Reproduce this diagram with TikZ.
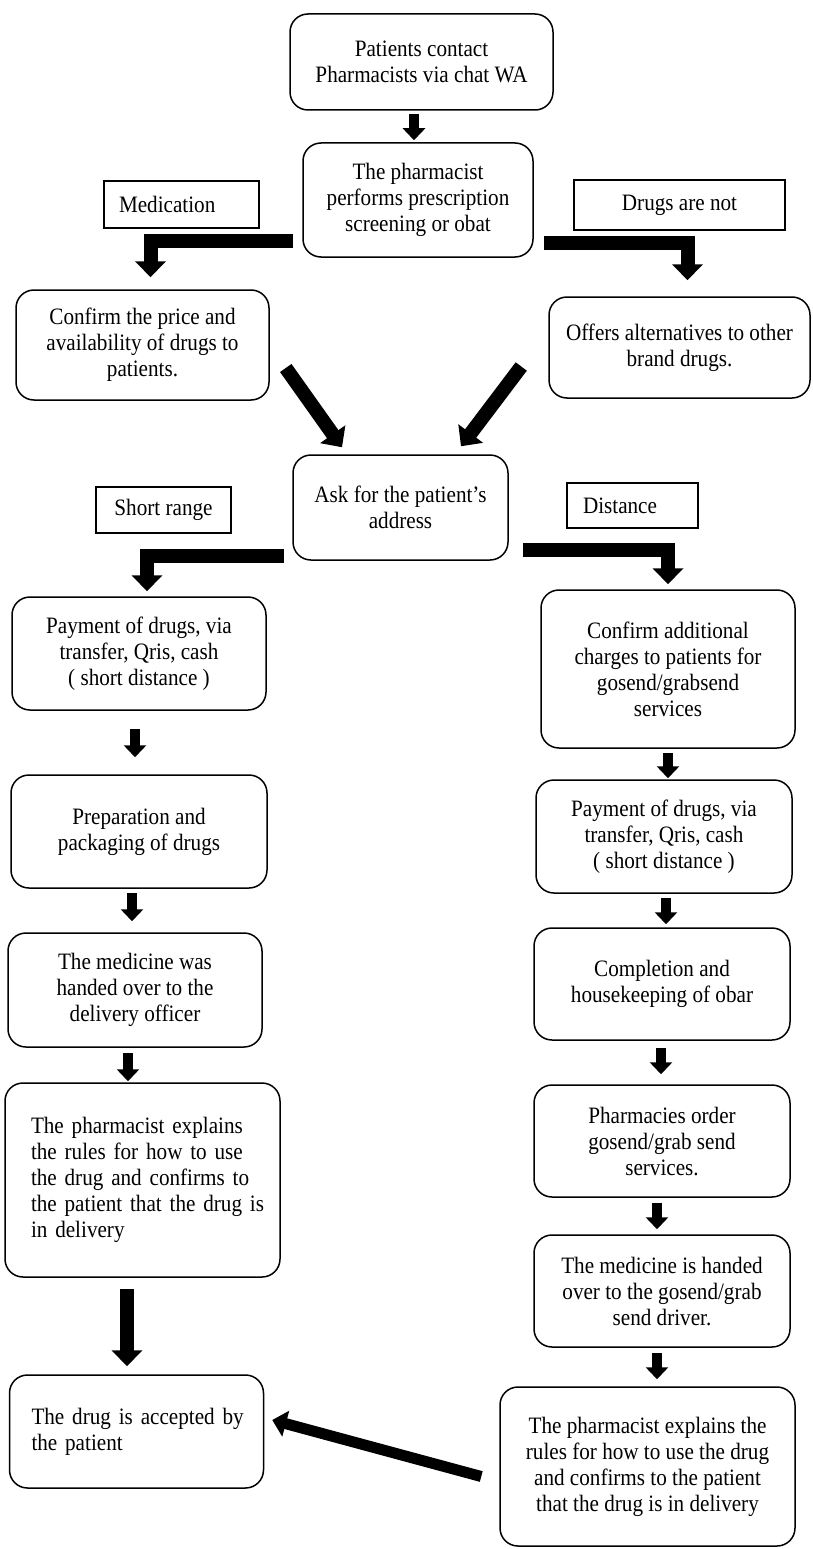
\documentclass[tikz,border=0pt]{standalone}
\usepackage{fontspec}
\setmainfont[FakeStretch=0.9]{Liberation Serif}
\usetikzlibrary{arrows.meta}
\newcommand{\jline}[2][223pt]{\makebox[#1][s]{#2}}

\begin{document}
\begin{tikzpicture}[x=1pt, y=-1pt,
    font=\fontsize{23.5}{26}\selectfont,
    stepbox/.style={draw, rounded corners=18pt, line width=1.5pt, align=center, inner sep=0pt},
    tagbox/.style={draw, line width=1.5pt, align=center, inner sep=0pt},
    flow/.style={line width=10pt, -{Triangle[width=22pt,length=12pt]}},
    bigflow/.style={line width=14pt, -{Triangle[width=30pt,length=16pt]}}]

\path[fill=white, use as bounding box] (0,0) rectangle (812,1549);

% top part
\node[stepbox, minimum width=263pt, minimum height=96pt] (contact) at (421.5,62) {Patients contact\\Pharmacists via chat WA};
\node[stepbox, minimum width=230pt, minimum height=114pt] (screen) at (418,200) {The pharmacist\\performs prescription\\screening or obat};
\node[tagbox, text width=125pt, inner xsep=15pt, minimum height=47pt, align=left] (med) at (181.5,204.5) {Medication};
\node[tagbox, minimum width=211pt, minimum height=50pt] (notdrug) at (679.5,205) {Drugs are not};
\node[stepbox, minimum width=253pt, minimum height=110pt] (price) at (142.5,345) {Confirm the price and\\availability of drugs to\\patients.};
\node[stepbox, minimum width=261pt, minimum height=101pt] (offer) at (679.5,347.5) {Offers alternatives to other\\brand drugs.};
\node[stepbox, minimum width=215pt, minimum height=105pt] (addr) at (400.5,507.5) {Ask for the patient's\\address};
\node[tagbox, minimum width=135pt, minimum height=46pt] (short) at (163.5,510) {Short range};
\node[tagbox, text width=99pt, inner xsep=16pt, minimum height=45pt, align=left] (dist) at (632.5,505.5) {Distance};

% short range
\node[stepbox, minimum width=254pt, minimum height=113pt] (payl) at (139,653.5) {Payment of drugs, via\\transfer, Qris, cash\\( short distance )};
\node[stepbox, minimum width=256pt, minimum height=113pt] (prep) at (139,831.5) {Preparation and\\packaging of drugs};
\node[stepbox, minimum width=254pt, minimum height=114pt] (handl) at (135,990) {The medicine was\\handed over to the\\delivery officer};
\node[stepbox, text width=223pt, inner xsep=26pt, minimum height=194pt, align=left] (explainl) at (142.5,1180) {\jline{The pharmacist explains}\\\jline{the rules for how to use}\\\jline{the drug and confirms to}\\\jline{the patient that the drug is}\\in delivery};
\node[stepbox, text width=210pt, inner xsep=22pt, minimum height=113pt, align=left] (accept) at (136.5,1431.5) {\jline[210pt]{The drug is accepted by}\\the patient};

% distance
\node[stepbox, minimum width=254pt, minimum height=158pt] (charge) at (668,669) {Confirm additional\\charges to patients for\\gosend/grabsend\\services};
\node[stepbox, minimum width=256pt, minimum height=113pt] (payr) at (664,836.5) {Payment of drugs, via\\transfer, Qris, cash\\( short distance )};
\node[stepbox, minimum width=256pt, minimum height=112pt] (house) at (662,984) {Completion and\\housekeeping of obar};
\node[stepbox, minimum width=256pt, minimum height=112pt] (order) at (662,1141) {Pharmacies order\\gosend/grab send\\services.};
\node[stepbox, minimum width=256pt, minimum height=112pt] (handr) at (662,1291) {The medicine is handed\\over to the gosend/grab\\send driver.};
\node[stepbox, minimum width=295pt, minimum height=159pt] (explainr) at (647.5,1466.5) {The pharmacist explains the\\rules for how to use the drug\\and confirms to the patient\\that the drug is in delivery};

% arrows
\draw[flow] ([shift={(-7.5,3)}]contact.south) -- ([shift={(-4,-2)}]screen.north);
\draw[bigflow] ([shift={(-9,-17)}]screen.south west) -| ([shift={(8,-12)}]price.north);
\draw[bigflow] ([shift={(10,-15)}]screen.south east) -| ([shift={(8,-16)}]offer.north);
\draw[bigflow] ([shift={(16,23)}]price.east) -- ([shift={(-58.5,-7)}]addr.north);
\draw[bigflow] ([shift={(-27,19)}]offer.west) -- ([shift={(60.5,-8)}]addr.north);
\draw[bigflow] ([shift={(-8,-5)}]addr.south west) -| ([shift={(8,-5)}]payl.north);
\draw[bigflow] ([shift={(14,-11)}]addr.south east) -| ([shift={(0,-5)}]charge.north);

\draw[flow] ([shift={(-4,18)}]payl.south) -- ([shift={(-4,-17)}]prep.north);
\draw[flow] ([shift={(-7,4)}]prep.south) -- ([shift={(-3,-11)}]handl.north);
\draw[flow] ([shift={(-7,5)}]handl.south) -- ([shift={(-14.5,-1)}]explainl.north);
\draw[bigflow] ([shift={(-15.5,11)}]explainl.south) -- ([shift={(-9.5,-8)}]accept.north);

\draw[flow] ([shift={(0,4)}]charge.south) -- ([shift={(4,-1)}]payr.north);
\draw[flow] ([shift={(2,4)}]payr.south) -- ([shift={(4,-3)}]house.north);
\draw[flow] ([shift={(-1,7)}]house.south) -- ([shift={(-1,-10)}]order.north);
\draw[flow] ([shift={(-5,5)}]order.south) -- ([shift={(-5,-5)}]handr.north);
\draw[flow] ([shift={(-5,5)}]handr.south) -- ([shift={(9.5,-7)}]explainr.north);
\draw[line width=11pt, -{Triangle[width=26pt,length=14pt]}] ([shift={(-18,10)}]explainr.west) -- ([shift={(8,-11.5)}]accept.east);

\end{tikzpicture}
\end{document}
